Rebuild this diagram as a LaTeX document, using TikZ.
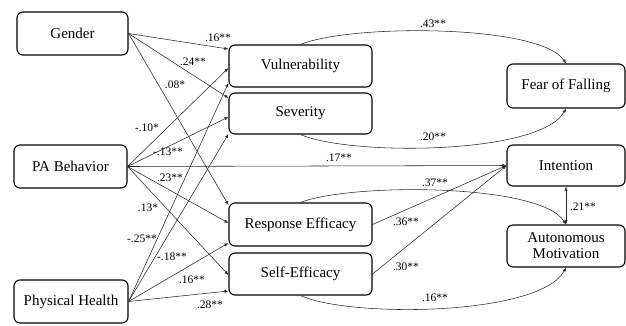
\documentclass[tikz,border=0pt]{standalone}
\usepackage{fontspec}
\setmainfont{LiberationSerif}[Extension=.ttf,UprightFont=*-Regular,BoldFont=*-Bold]
\usetikzlibrary{arrows.meta}
\begin{document}
\begin{tikzpicture}[x=1pt,y=-1pt,
  box/.style={draw=black,line width=1.1pt,rounded corners=6pt,inner sep=0pt,
    align=center,font=\fontsize{15}{17}\selectfont},
  conn/.style={draw=black!85,line width=0.55pt,-{Latex[length=4pt,width=3.2pt]}},
  lbl/.style={inner sep=0pt,font=\fontsize{11.5}{13}\selectfont}]
\useasboundingbox (0,0) rectangle (626,325);

% exogenous variables
\node[box,minimum width=111pt,minimum height=43pt] (gen) at (72.5,33.5) {Gender};
\node[box,minimum width=113pt,minimum height=43pt] (pab) at (70.5,166.5) {PA Behavior};
\node[box,minimum width=114pt,minimum height=43pt] (phh) at (71,301.5) {Physical Health};

% mediators
\node[box,minimum width=143pt,minimum height=42pt] (vul) at (300.5,66) {Vulnerability};
\node[box,minimum width=143pt,minimum height=41pt] (sev) at (300.5,113.5) {Severity};
\node[box,minimum width=143pt,minimum height=43pt] (res) at (300.5,224.5) {Response Efficacy};
\node[box,minimum width=143pt,minimum height=42pt] (sel) at (300.5,274) {Self-Efficacy};

% outcomes
\node[box,minimum width=118pt,minimum height=44pt] (fof) at (566,86) {Fear of Falling};
\node[box,minimum width=118pt,minimum height=41pt] (itn) at (566,165.5) {Intention};
\node[box,minimum width=118pt,minimum height=42pt] (aut) at (566,246) {Autonomous\\[-1pt]Motivation};

% paths from Gender
\draw[conn] (gen.east) -- (vul.west |- 0,49);
\draw[conn] (gen.east) -- (sev.west |- 0,98);
\draw[conn] (gen.east) -- (res.west |- 0,205);

% paths from PA Behavior
\draw[conn] (pab.east) -- (vul.west |- 0,68);
\draw[conn] (pab.east) -- (sev.west |- 0,117);
\draw[conn] (pab.east) -- (itn.west);
\draw[conn] (pab.east) -- (res.west |- 0,223);
\draw[conn] (pab.east) -- (sel.west |- 0,275);

% paths from Physical Health
\draw[conn] (phh.east) -- (vul.west |- 0,83);
\draw[conn] (phh.east) -- (sev.west |- 0,134);
\draw[conn] (phh.east) -- (res.west |- 0,243);
\draw[conn] (phh.east) -- (sel.west |- 0,291);

% mediators to outcomes
\draw[conn] (vul.north) .. controls (350,24) and (540,24) .. (fof.north);
\draw[conn] (sev.south) .. controls (350,156) and (540,155) .. (fof.south);
\draw[conn] (res.north) .. controls (350,183) and (540,183) .. (aut.north);
\draw[conn] (sel.south) .. controls (350,318) and (540,316) .. (aut.south);
\draw[conn] (res.east) -- (itn.west);
\draw[conn] (sel.east) -- (itn.west);
\draw[conn,{Latex[length=4pt,width=3.2pt]}-{Latex[length=4pt,width=3.2pt]}] (itn.south) -- (aut.north);

% coefficients
\node[lbl] (c1) at (218,38) {.16**};
\node[lbl] (c2) at (193,62) {.24**};
\node[lbl] (c3) at (175,85) {.08*};
\node[lbl] (c4) at (147,128) {-.10*};
\node[lbl] (c5) at (168,152) {-.13**};
\node[lbl] (c6) at (339,158) {.17**};
\node[lbl] (c7) at (170,178) {.23**};
\node[lbl] (c8) at (148,208) {.13*};
\node[lbl] (c9) at (142,239) {-.25**};
\node[lbl] (c10) at (172,257) {-.18**};
\node[lbl] (c11) at (192,280) {.16**};
\node[lbl] (c12) at (210,305) {.28**};
\node[lbl] (c13) at (433,24) {.43**};
\node[lbl] (c14) at (433,137) {.20**};
\node[lbl] (c15) at (435,183) {.37**};
\node[lbl] (c16) at (435,298) {.16**};
\node[lbl] (c17) at (406,222) {.36**};
\node[lbl] (c18) at (406,267) {.30**};
\node[lbl] (c19) at (583,207) {.21**};
\end{tikzpicture}
\end{document}
